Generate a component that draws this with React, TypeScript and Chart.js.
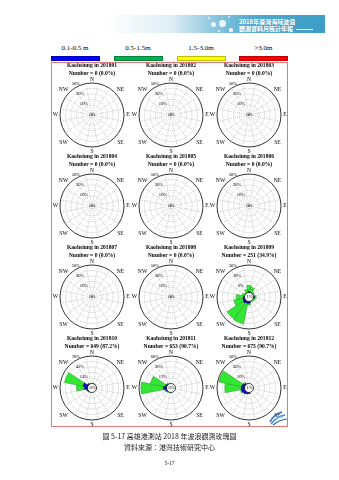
import React, { useEffect, useRef } from 'react';
import { Chart, registerables } from 'chart.js';

Chart.register(...registerables);

// ---------- data ----------
const directions = ['N', 'NNE', 'NE', 'ENE', 'E', 'ESE', 'SE', 'SSE', 'S', 'SSW', 'SW', 'WSW', 'W', 'WNW', 'NW', 'NNW'];
const months = ['201801', '201802', '201803', '201804', '201805', '201806', '201807', '201808', '201809', '201810', '201811', '201812'];
const counts = [0, 0, 0, 0, 0, 0, 0, 0, 251, 649, 653, 675];
const countPercents = ['0.0', '0.0', '0.0', '0.0', '0.0', '0.0', '0.0', '0.0', '34.9', '87.2', '90.7', '90.7'];
const axisMaxima = [50, 50, 50, 50, 50, 50, 50, 50, 30, 70, 60, 50];
const centerLabels = ['0%', '0%', '0%', '0%', '0%', '0%', '0%', '0%', '1%', '0%', '0%', '1%'];

const legendLabels = ['0.1-0.5 m', '0.5-1.5m', '1.5-3.0m', '>3.0m'];
const legendColors = ['#0000ff', '#00b050', '#ffff00', '#ff0000'];

// percentage of records by direction (N, clockwise), per wave-height class
const emptyMonth = [0, 0, 0, 0, 0, 0, 0, 0, 0, 0, 0, 0, 0, 0, 0, 0];
const blue201809 = [1, 0, 0, 0, 1, 0, 0, 0, 2, 2, 3, 2, 1, 0, 0, 0];
const green201809 = [7, 6, 2, 1, 2, 2, 1, 1, 2, 23, 21, 10, 8, 3, 1, 4];
const blue201810 = [0, 0, 0, 0, 0, 0, 0, 0, 0, 0, 1, 2, 8, 12, 2, 0];
const green201810 = [1, 1, 1, 0, 1, 0, 0, 0, 0, 1, 0, 1, 20, 48, 2, 1];
const blue201811 = [0, 0, 0, 0, 0, 0, 0, 0, 0, 0, 1, 2, 7, 3, 1, 0];
const green201811 = [0, 0, 0, 0, 0, 0, 0, 0, 1, 1, 1, 3, 49, 33, 2, 1];
const blue201812 = [0, 0, 0, 0, 0, 0, 0, 0, 2, 3, 5, 6, 6, 5, 2, 0];
const green201812 = [0, 0, 0, 0, 0, 0, 0, 0, 0, 0, 0, 2, 30, 43, 3, 1];

const blueByMonth = [emptyMonth, emptyMonth, emptyMonth, emptyMonth, emptyMonth, emptyMonth, emptyMonth, emptyMonth, blue201809, blue201810, blue201811, blue201812];
const greenByMonth = [emptyMonth, emptyMonth, emptyMonth, emptyMonth, emptyMonth, emptyMonth, emptyMonth, emptyMonth, green201809, green201810, green201811, green201812];

// ---------- layout ----------
const colX = [92, 171, 249];
const rowY = [115, 206, 297, 388];
const CW = 84;
const CH = 94;
const CXO = 42;
const CYO = 54;
const INNER = 4.5;
const OUTER = 32;
const SERIF = '"Liberation Serif", "Times New Roman", serif';

const compass: [string, number, number][] = [
  ['N', 0, -35.5], ['NE', 28.5, -25.5], ['E', 36, 0], ['SE', 28.5, 27.5],
  ['S', 0, 36.5], ['SW', -28.5, 27.5], ['W', -36.5, 0], ['NW', -28.5, -25.5],
];
const tickAngles = [-36, -29, -27];

const roseDecor = {
  id: 'roseDecor',
  afterDraw(chart: any, _args: any, opts: any) {
    const scale = chart.scales.r;
    const ctx = chart.ctx as CanvasRenderingContext2D;
    const cx = scale.xCenter;
    const cy = scale.yCenter;
    const r0 = scale.getDistanceFromCenterForValue(0);
    ctx.save();
    if (opts.filled) {
      ctx.beginPath();
      ctx.arc(cx, cy, r0, 0, Math.PI * 2);
      ctx.fillStyle = '#ffffff';
      ctx.fill();
      ctx.lineWidth = 0.7;
      ctx.strokeStyle = '#000000';
      ctx.stroke();
    }
    ctx.fillStyle = '#000000';
    ctx.textAlign = 'center';
    ctx.textBaseline = 'middle';
    ctx.font = `4.6px ${SERIF}`;
    ctx.fillText(opts.center, cx + 0.5, cy);
    (opts.labels as number[]).forEach((v, i) => {
      const d = scale.getDistanceFromCenterForValue(v) + 3.5;
      const a = (tickAngles[i] * Math.PI) / 180;
      ctx.fillText(`${v}%`, cx + d * Math.sin(a), cy - d * Math.cos(a));
    });
    ctx.font = `5.6px ${SERIF}`;
    compass.forEach(([t, dx, dy]) => ctx.fillText(t, cx + dx, cy + dy));
    ctx.restore();
  },
};

function Rose({ index }: { index: number }) {
  const ref = useRef<HTMLCanvasElement>(null);
  useEffect(() => {
    const max = axisMaxima[index];
    const step = max / 5;
    const min = (-max * INNER) / (OUTER - INNER);
    const blue = blueByMonth[index];
    const green = greenByMonth[index];
    const total = blue.map((b, i) => b + green[i]);
    const hasData = counts[index] > 0;
    const chart = new Chart(ref.current as HTMLCanvasElement, {
      type: 'polarArea',
      data: {
        labels: directions,
        datasets: [
          {
            label: legendLabels[0],
            data: blue.map((v) => (v > 0 ? v : null)) as any,
            backgroundColor: '#0c0cc0',
            borderColor: '#00005a',
            borderWidth: 0.4,
          },
          {
            label: legendLabels[1],
            data: total.map((v) => (v > 0 ? v : null)) as any,
            backgroundColor: '#33e633',
            borderColor: '#1f8f1f',
            borderWidth: 0.4,
          },
        ],
      },
      options: {
        responsive: false,
        maintainAspectRatio: false,
        animation: false,
        events: [],
        layout: { padding: { top: 1, left: 10, right: 10, bottom: 8 } },
        plugins: {
          legend: { display: false },
          tooltip: { enabled: false },
          title: {
            display: true,
            text: [`Kaohsiung in ${months[index]}`, `Number = ${counts[index]} (${countPercents[index]}%)`],
            color: '#000',
            font: { family: SERIF, size: 5.6, weight: 'bold', lineHeight: '7.5px' as any },
            padding: { top: 0, bottom: 6 },
          },
          roseDecor: {
            filled: hasData,
            center: centerLabels[index],
            labels: [step, step * 3, step * 5],
          },
        } as any,
        scales: {
          r: {
            min,
            max,
            startAngle: -11.25,
            ticks: { display: false, stepSize: step },
            pointLabels: { display: false },
            grid: {
              circular: true,
              color: (c: any) => (c.tick && Math.abs(c.tick.value - max) < 1e-6 ? '#000000' : '#a0a0a0'),
              lineWidth: (c: any) => (c.tick && Math.abs(c.tick.value - max) < 1e-6 ? 0.8 : 0.6),
            },
            border: {
              dash: (c: any) => (c.tick && Math.abs(c.tick.value - max) < 1e-6 ? [] : [1, 1.2]),
            } as any,
            angleLines: { display: true, color: '#a0a0a0', lineWidth: 0.6, borderDash: [1, 1.2] },
          } as any,
        },
      },
      plugins: [roseDecor as any],
    });
    return () => chart.destroy();
  }, [index]);
  const c = index % 3;
  const r = Math.floor(index / 3);
  return (
    <canvas
      ref={ref}
      width={CW}
      height={CH}
      style={{ position: 'absolute', left: colX[c] - CXO, top: rowY[r] - CYO, width: CW, height: CH }}
    />
  );
}

const legendCenters = [75, 138, 201, 263.5];
const barLefts = [51, 114, 177, 239];

export default function App() {
  return (
    <div
      style={{
        position: 'absolute',
        left: 0,
        top: 0,
        width: 339,
        height: 480,
        background: '#ffffff',
        overflow: 'hidden',
        fontFamily: SERIF,
      }}
    >
      {/* header banner */}
      <div
        style={{
          position: 'absolute',
          left: 105,
          top: 15,
          width: 220,
          height: 18,
          background:
            'linear-gradient(90deg, rgba(255,255,255,0) 0%, rgba(214,234,243,0.8) 30%, #8cc6de 50%, #4ea8cd 68%, #3c9dc6 100%)',
        }}
      />
      {[
        [213, 24, 2.5],
        [222, 23, 3.5],
        [229, 17, 1.3],
        [219, 31, 1.3],
        [231, 30, 1.6],
        [209, 18, 1],
      ].map(([x, y, rr], i) => (
        <div
          key={i}
          style={{
            position: 'absolute',
            left: x - rr,
            top: y - rr,
            width: rr * 2,
            height: rr * 2,
            borderRadius: '50%',
            background: 'rgba(255,255,255,0.85)',
          }}
        />
      ))}
      <div
        style={{
          position: 'absolute',
          left: 239,
          top: 18,
          color: '#ffffff',
          fontFamily: '"Noto Sans CJK TC", sans-serif',
          fontSize: 6,
          lineHeight: '7px',
          fontWeight: 700,
          whiteSpace: 'nowrap',
        }}
      >
        2018年臺灣海域波浪
        <br />
        觀測資料月統計年報
      </div>
      <div style={{ position: 'absolute', left: 296, top: 28.5, width: 17, height: 0.6, background: '#ffffff' }} />

      {/* legend */}
      {legendLabels.map((t, i) => (
        <div
          key={t}
          style={{
            position: 'absolute',
            left: legendCenters[i] - 30,
            width: 60,
            top: 44,
            textAlign: 'center',
            fontSize: 7,
            lineHeight: '8px',
            color: '#000',
            whiteSpace: 'nowrap',
          }}
        >
          {t}
        </div>
      ))}
      {legendColors.map((col, i) => (
        <div
          key={col}
          style={{
            position: 'absolute',
            left: barLefts[i],
            top: 56,
            width: 49,
            height: 4.5,
            background: col,
            boxSizing: 'border-box',
            border: '0.5px solid rgba(0,0,0,0.25)',
          }}
        />
      ))}

      {/* frame */}
      <div
        style={{
          position: 'absolute',
          left: 51,
          top: 62,
          width: 237,
          height: 365,
          border: '1px solid #e07a7a',
          boxSizing: 'border-box',
        }}
      />

      {months.map((m, i) => (
        <Rose key={m} index={i} />
      ))}

      {/* logo */}
      <svg style={{ position: 'absolute', left: 268, top: 408 }} width={20} height={18} viewBox="0 0 20 18">
        <path d="M2 14 Q6 6 14 4" stroke="#2a6fc0" strokeWidth={1.6} fill="none" />
        <path d="M3 16 Q8 9 17 7" stroke="#3f8fd8" strokeWidth={1.4} fill="none" />
        <path d="M5 17 Q11 12 19 11" stroke="#2a6fc0" strokeWidth={1.2} fill="none" />
        <path d="M8 11 Q11 8 15 9" stroke="#79b8ea" strokeWidth={1} fill="none" />
      </svg>

      {/* caption */}
      <div
        style={{
          position: 'absolute',
          left: 0,
          width: 339,
          top: 431,
          textAlign: 'center',
          fontFamily: '"Noto Sans CJK TC", sans-serif',
          fontSize: 7,
          lineHeight: '10px',
          color: '#222',
          whiteSpace: 'nowrap',
        }}
      >
        圖 5-17 高雄港測站 2018 年波浪觀測玫瑰圖
      </div>
      <div
        style={{
          position: 'absolute',
          left: 0,
          width: 339,
          top: 442,
          textAlign: 'center',
          fontFamily: '"Noto Sans CJK TC", sans-serif',
          fontSize: 7,
          lineHeight: '10px',
          color: '#222',
          whiteSpace: 'nowrap',
        }}
      >
        資料來源：港灣技術研究中心
      </div>
      <div
        style={{
          position: 'absolute',
          left: 0,
          width: 339,
          top: 460,
          textAlign: 'center',
          fontSize: 5.5,
          lineHeight: '6px',
          color: '#222',
        }}
      >
        5-17
      </div>
    </div>
  );
}
